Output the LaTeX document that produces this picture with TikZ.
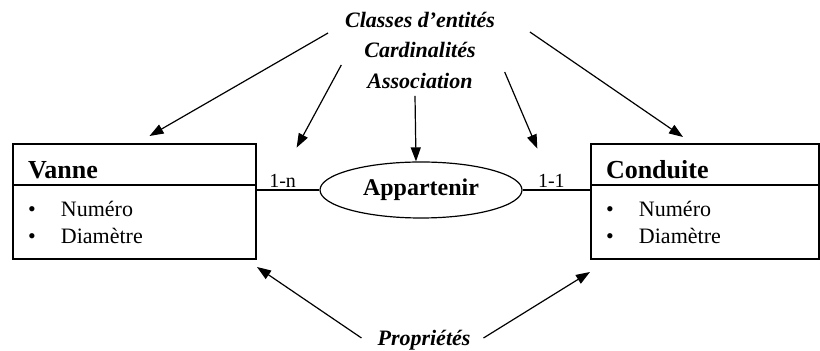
\documentclass[tikz,border=0pt]{standalone}
\usepackage{fontspec}
\setmainfont{Liberation Serif}
\usepackage{tikz}
\usetikzlibrary{shapes.geometric,arrows.meta,calc}

\newcommand{\puce}{\makebox[16.5pt][l]{\textbullet}}

\begin{document}
\begin{tikzpicture}[x=0.5pt, y=-0.5pt,
		titre/.style={draw, line width=0.7pt, outer sep=0pt, anchor=north west, inner xsep=7.5pt, inner ysep=2pt,
			minimum height=20.5pt, text height=14pt, align=left, font=\fontsize{13}{15}\selectfont\bfseries},
		corps/.style={draw, line width=0.7pt, outer sep=0pt, anchor=north west, inner xsep=7.5pt,
			minimum height=37pt, align=left, font=\fontsize{11}{13.5}\selectfont},
		etiquette/.style={font=\fontsize{11}{13}\selectfont\bfseries\itshape},
		card/.style={font=\fontsize{10}{12}\selectfont, inner sep=1pt},
		fleche/.style={line width=0.6pt, -{Triangle[length=7pt,width=5pt]}}]
		\useasboundingbox (0, 0) rectangle (820, 351);
		% entites
		\node[titre, text width=106.5pt] (vanne) at (13, 144) {Vanne};
		\node[corps, text width=106.5pt] (vanneprop) at (vanne.south west) {\puce Numéro\\\puce Diamètre};
		\node[titre, text width=99pt] (conduite) at (591, 144) {Conduite};
		\node[corps, text width=99pt] (conduiteprop) at (conduite.south west) {\puce Numéro\\\puce Diamètre};
		% association
		\node[draw, ellipse, line width=0.6pt, minimum width=101pt, minimum height=28pt, inner sep=0pt,
			font=\fontsize{12}{14}\selectfont\bfseries] (app) at (421, 190) {Appartenir};
		\draw[line width=0.6pt] (app.west) -- (app.west -| vanne.east) node[card, above, pos=0.58] (n1) {1-n};
		\draw[line width=0.6pt] (app.east) -- (app.east -| conduite.west) node[card, above, pos=0.42] (n2) {1-1};
		% legendes
		\node[etiquette] (classes) at (420, 20) {Classes d'entités};
		\node[etiquette] (cardinal) at (420, 50) {Cardinalités};
		\node[etiquette] (asso) at (420, 81) {Association};
		\node[etiquette] (proprietes) at (424, 340) {Propriétés};
		% fleches
		\draw[fleche] ($(classes.west)+(-10, 13)$) -- ($(vanne.north)+(15, -8)$);
		\draw[fleche] ($(classes.east)+(28, 12)$) -- ($(conduite.north)+(-22, -7)$);
		\draw[fleche] ($(cardinal.west)+(-16, 15)$) -- ($(n1.north)+(14, -24)$);
		\draw[fleche] ($(cardinal.east)+(22, 22)$) -- ($(n2.north)+(-14, -23)$);
		\draw[fleche] ([xshift=-2.5pt]asso.south) -- ([xshift=-2.5pt]app.north);
		\draw[fleche] ($(proprietes.west)+(-9, -2)$) -- ($(vanneprop.south east)+(1, 8)$);
		\draw[fleche] ($(proprietes.east)+(6, -2)$) -- ($(conduiteprop.south west)+(-1, 13)$);
\end{tikzpicture}
\end{document}
